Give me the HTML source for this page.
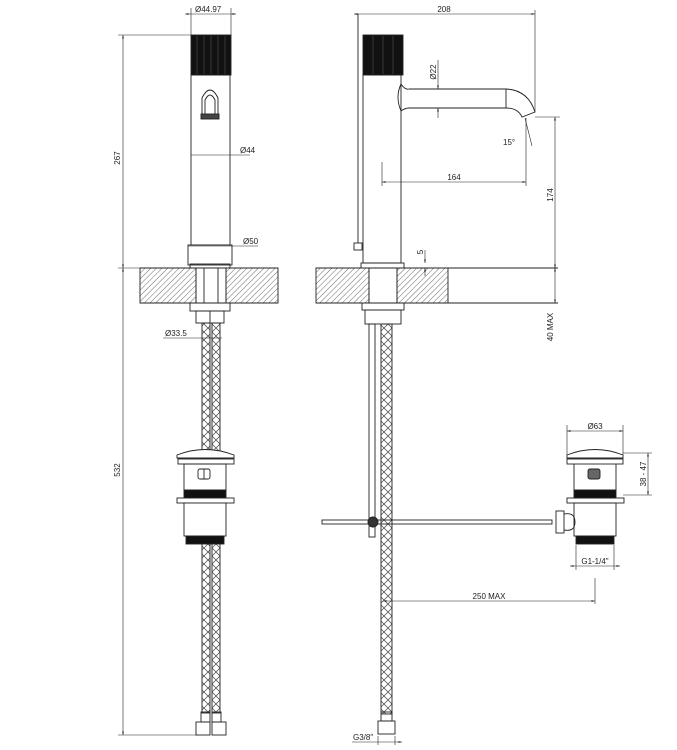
<!DOCTYPE html>
<html><head><meta charset="utf-8"><style>
html,body{margin:0;padding:0;background:#fff}
svg{display:block}
text{font-family:"Liberation Sans",sans-serif;font-size:8px;fill:#222}
</style></head><body>
<svg width="677" height="750" viewBox="0 0 677 750" xmlns="http://www.w3.org/2000/svg">
<defs>
<pattern id="hatch" width="4" height="4" patternUnits="userSpaceOnUse" patternTransform="rotate(45)">
<line x1="0" y1="0" x2="0" y2="4" stroke="#444" stroke-width="0.8"/>
</pattern>
<pattern id="braid" width="8" height="8" patternUnits="userSpaceOnUse">
<path d="M0 0L8 8M8 0L0 8" stroke="#444" stroke-width="0.7"/>
</pattern>
<marker id="a" markerWidth="6" markerHeight="6" refX="6" refY="3" orient="auto"><path d="M0 1.5L6 3L0 4.5z" fill="#222"/></marker>
<marker id="b" markerWidth="6" markerHeight="6" refX="0" refY="3" orient="auto"><path d="M6 1.5L0 3L6 4.5z" fill="#222"/></marker>
</defs>
<g stroke="#222" stroke-width="0.9" fill="none">
<!-- LEFT VIEW -->
<rect x="191" y="35" width="40" height="40" fill="#111"/>
<g stroke="#555" stroke-width="0.6"><line x1="197" y1="36" x2="197" y2="74"/><line x1="204" y1="36" x2="204" y2="74"/><line x1="211" y1="36" x2="211" y2="74"/><line x1="218" y1="36" x2="218" y2="74"/><line x1="225" y1="36" x2="225" y2="74"/></g>
<rect x="191" y="75" width="39" height="170"/>
<rect x="188" y="245" width="44" height="20"/>
<rect x="190" y="264" width="40" height="4"/>
<path d="M202 117 L202 98 Q210 82 218 98 L218 117 M205 117 L205 100 Q210 90 215 100 L215 117"/>
<rect x="201" y="114" width="18" height="5" fill="#444"/>
<rect x="140" y="268" width="56" height="35" fill="url(#hatch)"/>
<rect x="226" y="268" width="52" height="35" fill="url(#hatch)"/>
<line x1="140" y1="268" x2="278" y2="268"/><line x1="140" y1="303" x2="278" y2="303"/>
<rect x="196" y="268" width="30" height="35"/>
<line x1="204" y1="268" x2="204" y2="303"/><line x1="218" y1="268" x2="218" y2="303"/>
<rect x="190" y="303" width="40" height="8"/>
<rect x="196" y="311" width="28" height="12"/>
<line x1="210" y1="311" x2="210" y2="323"/>
<rect x="202" y="323" width="8" height="390" fill="url(#braid)"/>
<rect x="212" y="323" width="8" height="390" fill="url(#braid)"/>
<rect x="201" y="712" width="9" height="10"/><rect x="212" y="712" width="9" height="10"/>
<rect x="196" y="722" width="14" height="13"/><rect x="212" y="722" width="14" height="13"/>
<!-- left popup -->
<path d="M177 455 Q205 444 234 455 L234 458 L177 458 Z" fill="#fff"/>
<rect x="178" y="459" width="56" height="5" fill="#fff"/>
<path d="M184 464 L184 490 L226 490 L226 464 Z" fill="#fff"/>
<rect x="198" y="469" width="12" height="10" rx="2" fill="#fff"/>
<line x1="204" y1="469" x2="204" y2="479"/>
<rect x="184" y="490" width="42" height="8" fill="#111"/>
<rect x="177" y="498" width="57" height="5" fill="#fff"/>
<rect x="184" y="503" width="42" height="33" fill="#fff"/>
<rect x="186" y="536" width="38" height="8" fill="#111"/>
<!-- left dims -->
<g stroke-width="0.6">
<line x1="191" y1="8" x2="191" y2="35"/><line x1="231" y1="8" x2="231" y2="35"/>
<line x1="185" y1="14" x2="236" y2="14" marker-start="url(#b)" marker-end="url(#a)"/>
<line x1="191" y1="155" x2="250" y2="155"/>
<line x1="188" y1="246" x2="258" y2="246"/>
<line x1="118" y1="35" x2="191" y2="35"/>
<line x1="123" y1="35" x2="123" y2="268" marker-start="url(#b)" marker-end="url(#a)"/>
<line x1="118" y1="268" x2="140" y2="268"/>
<line x1="123" y1="268" x2="123" y2="735" marker-start="url(#b)" marker-end="url(#a)"/>
<line x1="118" y1="735" x2="198" y2="735"/>
<line x1="163" y1="338" x2="222" y2="338"/>
</g>
<!-- RIGHT VIEW -->
<rect x="363" y="35" width="40" height="40" fill="#111"/>
<g stroke="#555" stroke-width="0.6"><line x1="373" y1="36" x2="373" y2="74"/><line x1="383" y1="36" x2="383" y2="74"/><line x1="393" y1="36" x2="393" y2="74"/></g>
<rect x="363" y="75" width="38" height="188"/>
<line x1="358" y1="14" x2="358" y2="243"/>
<rect x="354" y="243" width="8" height="7"/>
<path d="M401 84 Q395 97 401 111"/>
<path d="M401 84 Q405 90 409 89 L506 89 Q528 90 535 112 L522 117 Q518 108 506 108 L409 108 Q405 108 401 111"/>
<line x1="506" y1="89" x2="506" y2="108"/>
<rect x="361" y="263" width="43" height="5"/>
<rect x="316" y="268" width="53" height="35" fill="url(#hatch)"/>
<rect x="397" y="268" width="51" height="35" fill="url(#hatch)"/>
<line x1="316" y1="268" x2="558" y2="268"/><line x1="316" y1="303" x2="558" y2="303"/>
<rect x="369" y="268" width="28" height="35"/>
<rect x="362" y="303" width="42" height="7"/>
<rect x="365" y="310" width="36" height="14"/>
<rect x="369" y="324" width="6" height="213"/>
<rect x="381" y="324" width="11" height="390" fill="url(#braid)"/>
<rect x="381" y="712" width="11" height="9"/>
<rect x="378" y="721" width="17" height="13"/>
<rect x="322" y="520" width="230" height="4"/>
<circle cx="373" cy="522" r="5" fill="#333"/>
<!-- right popup -->
<path d="M567 455 Q595 444 623 455 L623 458 L567 458 Z" fill="#fff"/>
<rect x="567" y="459" width="56" height="5"/>
<path d="M574 464 L574 490 L616 490 L616 464"/>
<rect x="588" y="469" width="12" height="10" rx="2" fill="#666"/>
<rect x="574" y="490" width="42" height="8" fill="#111"/>
<rect x="567" y="498" width="57" height="5"/>
<rect x="574" y="503" width="42" height="33"/>
<rect x="576" y="536" width="38" height="8" fill="#111"/>
<rect x="556" y="511" width="8" height="22"/>
<path d="M564 514 Q575 512 575 522 Q575 532 564 530"/>
<!-- right dims -->
<g stroke-width="0.6">
<line x1="354" y1="14" x2="535" y2="14" marker-start="url(#b)" marker-end="url(#a)"/>
<line x1="535" y1="10" x2="535" y2="112"/>
<line x1="438" y1="60" x2="438" y2="89" marker-end="url(#a)"/>
<line x1="438" y1="108" x2="438" y2="118" marker-start="url(#b)"/>
<line x1="525" y1="118" x2="532" y2="146"/>
<line x1="526" y1="118" x2="526" y2="186"/>
<line x1="382" y1="162" x2="382" y2="186"/>
<line x1="382" y1="182" x2="526" y2="182" marker-start="url(#b)" marker-end="url(#a)"/>
<line x1="535" y1="117" x2="560" y2="117"/>
<line x1="555" y1="117" x2="555" y2="268" marker-start="url(#b)" marker-end="url(#a)"/>
<line x1="555" y1="268" x2="555" y2="303" marker-start="url(#b)" marker-end="url(#a)"/>
<line x1="425" y1="250" x2="425" y2="263" marker-end="url(#a)"/>
<line x1="425" y1="268" x2="425" y2="276" marker-start="url(#b)"/>
<line x1="567" y1="425" x2="567" y2="455"/><line x1="623" y1="425" x2="623" y2="455"/>
<line x1="567" y1="431" x2="623" y2="431" marker-start="url(#b)" marker-end="url(#a)"/>
<line x1="623" y1="453" x2="652" y2="453"/><line x1="623" y1="495" x2="652" y2="495"/>
<line x1="648" y1="453" x2="648" y2="495" marker-start="url(#b)" marker-end="url(#a)"/>
<line x1="576" y1="545" x2="576" y2="570"/><line x1="614" y1="545" x2="614" y2="570"/>
<line x1="570" y1="566" x2="620" y2="566" marker-start="url(#b)" marker-end="url(#a)"/>
<line x1="595" y1="578" x2="595" y2="604"/>
<line x1="383" y1="601" x2="595" y2="601" marker-start="url(#b)" marker-end="url(#a)"/>
<line x1="378" y1="736" x2="378" y2="745"/><line x1="395" y1="736" x2="395" y2="745"/>
<line x1="352" y1="742" x2="402" y2="742" marker-end="url(#a)"/>
</g>
</g>
<text x="195" y="12">Ø44.97</text>
<text x="240" y="153">Ø44</text>
<text x="243" y="244">Ø50</text>
<text x="165" y="336">Ø33.5</text>
<text x="120" y="158" transform="rotate(-90 120 158)" text-anchor="middle">267</text>
<text x="120" y="470" transform="rotate(-90 120 470)" text-anchor="middle">532</text>
<text x="444" y="12" text-anchor="middle">208</text>
<text x="436" y="72" transform="rotate(-90 436 72)" text-anchor="middle">Ø22</text>
<text x="503" y="145">15°</text>
<text x="454" y="180" text-anchor="middle">164</text>
<text x="553" y="195" transform="rotate(-90 553 195)" text-anchor="middle">174</text>
<text x="553" y="327" transform="rotate(-90 553 327)" text-anchor="middle">40 MAX</text>
<text x="423" y="252" transform="rotate(-90 423 252)" text-anchor="middle">5</text>
<text x="595" y="429" text-anchor="middle">Ø63</text>
<text x="646" y="474" transform="rotate(-90 646 474)" text-anchor="middle">38 - 47</text>
<text x="595" y="564" text-anchor="middle">G1-1/4"</text>
<text x="489" y="599" text-anchor="middle">250 MAX</text>
<text x="353" y="740">G3/8"</text>
</svg>
</body></html>
